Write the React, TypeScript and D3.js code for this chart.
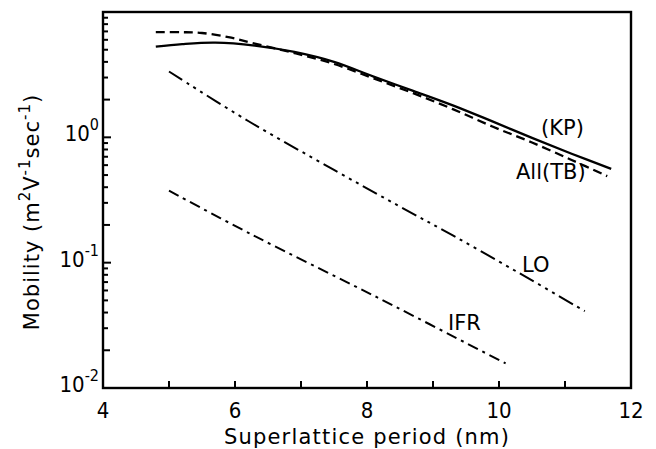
import React from "react";
import * as d3 from "d3";

const W = 656;
const H = 449;
const PL = 103, PR = 631, PT = 12, PB = 388;

// Superlattice period (nm)
const kpPeriod = [4.8, 5.2, 5.7, 6.3, 6.9, 7.5, 8.1, 8.7, 9.3, 9.9, 10.5, 11.1, 11.7];
const kpMobility = [5.3, 5.55, 5.7, 5.4, 4.8, 4.0, 3.05, 2.35, 1.8, 1.34, 0.99, 0.74, 0.56];

const tbPeriod = [4.8, 5.2, 5.5, 5.9, 6.3, 6.9, 7.5, 8.1, 8.7, 9.3, 9.9, 10.5, 11.1, 11.64];
const tbMobility = [6.9, 6.9, 6.8, 6.3, 5.6, 4.7, 3.85, 2.95, 2.25, 1.68, 1.22, 0.91, 0.66, 0.49];

const loPeriod = [5.0, 6.2, 7.5, 8.5, 9.3, 10.3, 11.3];
const loMobility = [3.35, 1.35, 0.55, 0.28, 0.165, 0.083, 0.041];

const ifrPeriod = [5.0, 6.25, 8.15, 10.1];
const ifrMobility = [0.375, 0.168, 0.053, 0.0157];

const xTicks = [4, 6, 8, 10, 12];
const xMinorTicks = [5, 6, 7, 8, 9, 10, 11];
const yDecades = [0.01, 0.1, 1, 10];
const yDecadeLabels = [
  { v: 0.01, exp: "-2" },
  { v: 0.1, exp: "-1" },
  { v: 1, exp: "0" },
];

const FONT_C = "'DejaVu Sans Condensed', 'DejaVu Sans', sans-serif";
const FONT = "'DejaVu Sans', sans-serif";

export default function App() {
  const x = d3.scaleLinear().domain([4, 12]).range([PL, PR]);
  const y = d3.scaleLog().domain([0.01, 10]).range([PB, PT]);

  const mk = (xs: number[], ys: number[]) =>
    d3
      .line<number>()
      .x((_, i) => x(xs[i]))
      .y((_, i) => y(ys[i]))
      .curve(d3.curveCatmullRom.alpha(0.5))(xs as any) as string;

  const minor: { v: number; len: number }[] = [];
  for (let d = 0; d < 3; d++) {
    const base = yDecades[d];
    for (let k = 2; k <= 9; k++) {
      minor.push({ v: base * k, len: k === 2 ? 7 : 5 });
    }
  }

  return (
    <svg
      width={W}
      height={H}
      style={{ position: "absolute", left: 0, top: 0, background: "#fff" }}
      fontFamily={FONT_C}
    >
      <rect x={0} y={0} width={W} height={H} fill="#fff" />
      {/* frame */}
      <rect x={PL} y={PT} width={PR - PL} height={PB - PT} fill="none" stroke="#000" strokeWidth={2.4} />
      {/* x ticks */}
      {xMinorTicks.map((t) => (
        <line key={"xt" + t} x1={x(t)} x2={x(t)} y1={PB} y2={PB - 7} stroke="#000" strokeWidth={2} />
      ))}
      {xTicks.map((t) => (
        <text key={"xl" + t} x={x(t)} y={418} textAnchor="middle" fontSize={22}>
          {t}
        </text>
      ))}
      {/* y ticks */}
      {yDecades.map((v) => (
        <line key={"yd" + v} x1={PL} x2={PL + 8} y1={y(v)} y2={y(v)} stroke="#000" strokeWidth={2} />
      ))}
      {minor.map((m, i) => (
        <line key={"ym" + i} x1={PL} x2={PL + m.len} y1={y(m.v)} y2={y(m.v)} stroke="#000" strokeWidth={2} />
      ))}
      {yDecadeLabels.map((l) => (
        <text key={"yl" + l.v} x={PL - 4} y={y(l.v) + 4} textAnchor="end" fontSize={22}>
          10
          <tspan fontSize={16} dy={-11}>
            {l.exp}
          </tspan>
        </text>
      ))}
      {/* curves */}
      <path d={mk(kpPeriod, kpMobility)} fill="none" stroke="#000" strokeWidth={2.3} />
      <path d={mk(tbPeriod, tbMobility)} fill="none" stroke="#000" strokeWidth={2.3} strokeDasharray="9,5" />
      <path
        d={mk(loPeriod, loMobility)}
        fill="none"
        stroke="#000"
        strokeWidth={2}
        strokeDasharray="16,5,3,5,3,5,3,5"
      />
      <path d={mk(ifrPeriod, ifrMobility)} fill="none" stroke="#000" strokeWidth={2} strokeDasharray="11,5,3,5" />
      {/* curve labels */}
      <text x={541} y={135} fontSize={21} fontFamily={FONT}>(KP)</text>
      <text x={516} y={179} fontSize={21} fontFamily={FONT}>All(TB)</text>
      <text x={522} y={272} fontSize={21} fontFamily={FONT}>LO</text>
      <text x={448} y={330} fontSize={21} fontFamily={FONT}>IFR</text>
      {/* axis titles */}
      <text x={(PL + PR) / 2} y={444} textAnchor="middle" fontSize={21} letterSpacing={1.2} fontFamily={FONT}>
        Superlattice period (nm)
      </text>
      <text
        transform={`translate(39, 212) rotate(-90)`}
        textAnchor="middle"
        fontSize={21}
        letterSpacing={1}
        fontFamily={FONT}
      >
        Mobility (m
        <tspan fontSize={15} dy={-9}>2</tspan>
        <tspan dy={9}>V</tspan>
        <tspan fontSize={15} dy={-9}>-1</tspan>
        <tspan dy={9}>sec</tspan>
        <tspan fontSize={15} dy={-9}>-1</tspan>
        <tspan dy={9}>)</tspan>
      </text>
    </svg>
  );
}
